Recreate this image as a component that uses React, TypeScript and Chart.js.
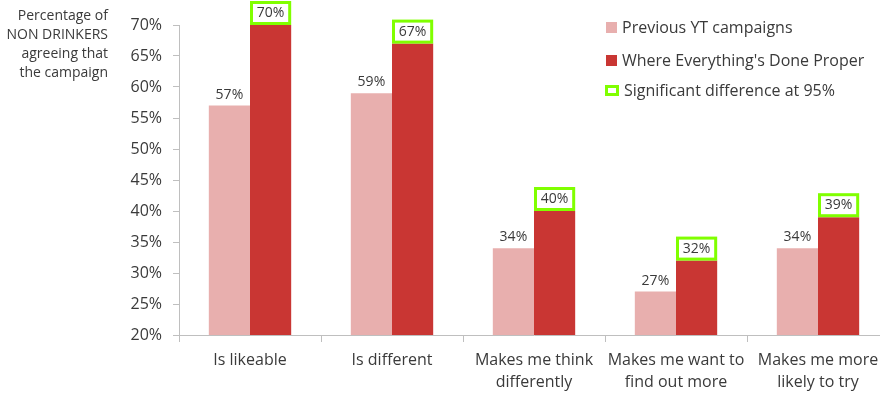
import React, { useEffect, useRef } from "react";
import { Chart, registerables } from "chart.js";

Chart.register(...registerables);

const categories: string[][] = [
  ["Is likeable"],
  ["Is different"],
  ["Makes me think", "differently"],
  ["Makes me want to", "find out more"],
  ["Makes me more", "likely to try"],
];
const previousYT: number[] = [57, 59, 34, 27, 34];
const wedp: number[] = [70, 67, 40, 32, 39];
const significant: boolean[] = [true, true, true, true, true];
const seriesNames: string[] = ["Previous YT campaigns", "Where Everything's Done Proper"];
const sigLabel = "Significant difference at 95%";
const axisTitle: string[] = ["Percentage of", "NON DRINKERS", "agreeing that", "the campaign"];

const PINK = "#E8AFAE";
const RED = "#C93633";
const GREEN = "#80FF00";
const TEXT = "#3A3A3A";
const FONT = "'Open Sans', sans-serif";

export default function App() {
  const ref = useRef<HTMLCanvasElement | null>(null);
  useEffect(() => {
    if (!ref.current) return;
    const overlay = {
      id: "overlay",
      afterDatasetsDraw(chart: any) {
        const ctx = chart.ctx;
        ctx.save();
        ctx.font = `14px ${FONT}`;
        ctx.textAlign = "center";
        ctx.textBaseline = "middle";
        ctx.fillStyle = TEXT;
        chart.getDatasetMeta(0).data.forEach((el: any, i: number) => {
          ctx.fillText(previousYT[i] + "%", el.x, el.y - 11);
        });
        chart.getDatasetMeta(1).data.forEach((el: any, i: number) => {
          const w = el.width;
          if (significant[i]) {
            ctx.strokeStyle = GREEN;
            ctx.lineWidth = 3;
            ctx.strokeRect(el.x - w / 2 + 1.5, el.y - 24 + 1.5, w - 3, 24 - 3);
          }
          ctx.fillStyle = TEXT;
          ctx.fillText(wedp[i] + "%", el.x, el.y - 12);
        });
        ctx.restore();
      },
      afterDraw(chart: any) {
        const ctx = chart.ctx;
        ctx.save();
        // axis title
        ctx.font = `14px ${FONT}`;
        ctx.fillStyle = TEXT;
        ctx.textAlign = "right";
        ctx.textBaseline = "middle";
        axisTitle.forEach((t, i) => ctx.fillText(t, 108, 16 + i * 19));
        // legend
        ctx.font = `16px ${FONT}`;
        ctx.textAlign = "left";
        ctx.fillStyle = PINK;
        ctx.fillRect(606, 22, 11, 11);
        ctx.fillStyle = RED;
        ctx.fillRect(606, 55, 11, 11);
        ctx.strokeStyle = GREEN;
        ctx.lineWidth = 3;
        ctx.strokeRect(606.5, 86.5, 11, 8);
        ctx.fillStyle = TEXT;
        ctx.fillText(seriesNames[0], 622, 28);
        ctx.fillText(seriesNames[1], 622, 61);
        ctx.fillText(sigLabel, 624, 91);
        ctx.restore();
      },
    };
    const chart = new Chart(ref.current, {
      type: "bar",
      data: {
        labels: categories,
        datasets: [
          { label: seriesNames[0], data: previousYT, backgroundColor: PINK },
          { label: seriesNames[1], data: wedp, backgroundColor: RED },
        ],
      },
      options: {
        animation: false,
        responsive: false,
        maintainAspectRatio: false,
        layout: { padding: { top: 25, right: 11, bottom: 0, left: 0 } },
        plugins: { legend: { display: false }, tooltip: { enabled: false } },
        datasets: { bar: { categoryPercentage: 0.58, barPercentage: 1 } },
        scales: {
          x: {
            offset: true,
            grid: { offset: true, drawOnChartArea: false, drawTicks: true, tickLength: 7, color: "#BFBFBF" },
            border: { color: "#BFBFBF" },
            ticks: { color: TEXT, font: { family: FONT, size: 16, lineHeight: 1.375 }, padding: 7, maxRotation: 0, autoSkip: false },
            afterFit: (s: any) => { s.height = 58; },
          },
          y: {
            min: 20,
            max: 70,
            grid: { drawOnChartArea: false, drawTicks: true, tickLength: 6, color: "#BFBFBF" },
            border: { color: "#BFBFBF" },
            ticks: { stepSize: 5, color: TEXT, font: { family: FONT, size: 16 }, padding: 11, callback: (v: any) => v + "%" },
            afterFit: (s: any) => { s.width = 179; },
          },
        },
      },
      plugins: [overlay],
    });
    return () => chart.destroy();
  }, []);
  return (
    <div style={{ position: "fixed", left: 0, top: 0, width: 900, height: 393 }}>
      <canvas ref={ref} width={900} height={393} style={{ width: 900, height: 393 }} />
    </div>
  );
}
